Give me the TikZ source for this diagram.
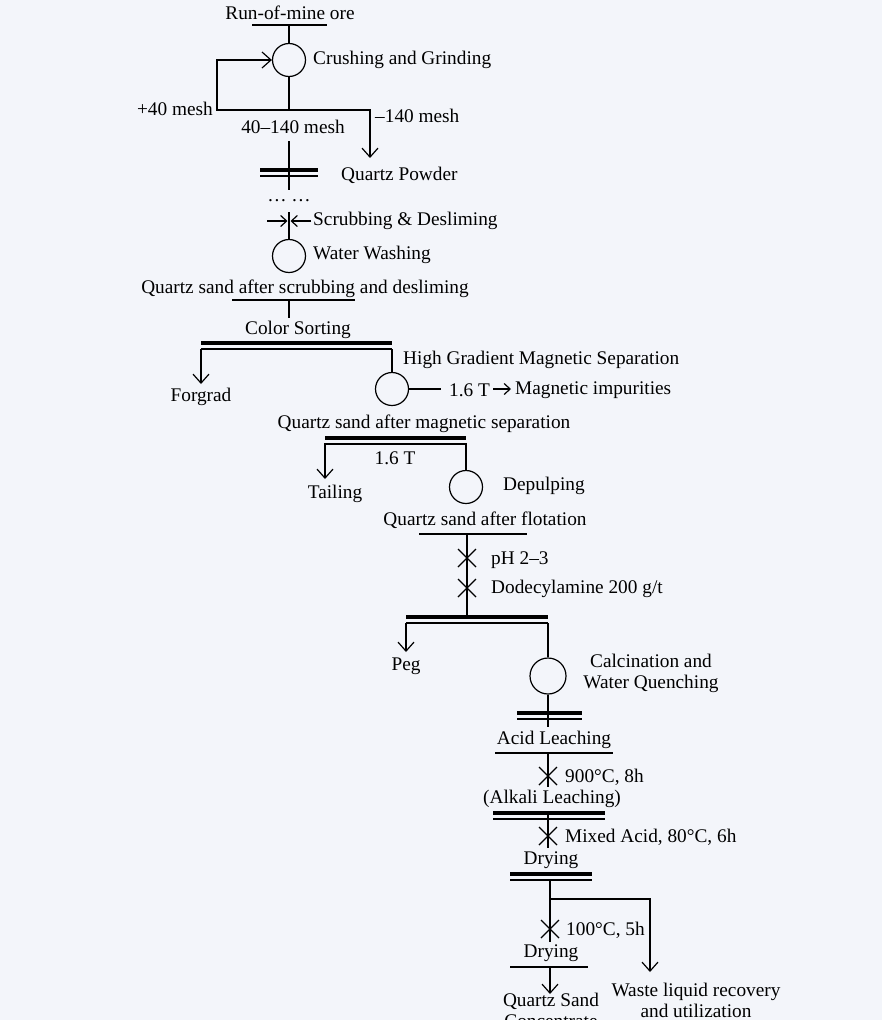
\documentclass[tikz,border=0pt]{standalone}
\usepackage{fontspec}
\setmainfont{Liberation Serif}
\usetikzlibrary{arrows.meta}
\definecolor{bg}{RGB}{243,245,250}
\begin{document}
\begin{tikzpicture}[x=1pt,y=-1pt,
  every node/.style={font=\fontsize{19.3}{21}\selectfont,inner sep=0pt},
  ln/.style={line width=1.2pt},
  arr/.style={ln,-{Straight Barb[length=9pt,width=16pt]}},
  sarr/.style={ln,-{Straight Barb[length=6pt,width=11pt]}},
  thk/.style={line width=3.2pt},
  circ/.style={circle,draw,line width=1.2pt,minimum size=33pt},
  lt/.style={anchor=west}]
\fill[bg] (0,0) rectangle (882,1020);
\useasboundingbox (0,0) rectangle (882,1020);
\newcommand\xmark[2]{\draw[ln] (#1-9,#2-9)--(#1+9,#2+9) (#1-9,#2+9)--(#1+9,#2-9);}
\newcommand\dbar[3]{\draw[thk] (#1,#3)--(#2,#3); \draw[ln] (#1,#3+6)--(#2,#3+6);}
% top
\node (rom) at (290,13) {Run-of-mine ore};
\draw[ln] (252,25)--(327,25);
\node[circ] (c1) at (289,60) {};
\node[lt] (cg) at (313,60) {Crushing and Grinding};
\draw[ln] (289,25)--(c1.north);
\coordinate (j1) at (289,110);
\draw[ln] (c1.south)--(j1);
\draw[arr] (j1)--(217,110)--(217,60)--(c1.west);
\node[anchor=east] (p40) at (213,109) {+40 mesh};
\node (m140) at (293,127) {40--140 mesh};
\coordinate (q1) at (370,158);
\draw[arr] (j1)--(370,110)--(q1);
\node[lt] (n140) at (375,116) {--140 mesh};
\draw[ln] (289,141)--(289,190);
\dbar{260}{318}{170}
\node[lt] (qp) at (341,175) {Quartz Powder};
\node (dots) at (289,201) {\ldots\ \ldots};
\coordinate (s1) at (287.5,221);
\coordinate (s2) at (290.5,221);
\draw[sarr] (267,221)--(s1);
\draw[sarr] (311,221)--(s2);
\node[lt] (sd) at (313,221) {Scrubbing \& Desliming};
\node[circ] (c2) at (289,256) {};
\draw[ln] (289,212)--(c2.north);
\node[lt] (ww) at (313,255) {Water Washing};
\node (qs1) at (305,289) {Quartz sand after scrubbing and desliming};
\draw[ln] (232,300)--(355,300);
\draw[ln] (289,300)--(289,318);
\node (cs) at (298,330) {Color Sorting};
\dbar{201}{392}{343}
\draw[arr] (201,349)--(201,384);
\node (fg) at (201,397) {Forgrad};
\node[circ] (c3) at (392,389) {};
\draw[ln] (392,349)--(c3.north);
\node[lt] (hg) at (403,360) {High Gradient Magnetic Separation};
\node[lt] (t16) at (449,390) {1.6 T};
\draw[ln] (c3.east)--(441,389);
\node[lt] (mi) at (515,390) {Magnetic impurities};
\draw[sarr] (493,389) -- (511,389);
\node (qs2) at (424,424) {Quartz sand after magnetic separation};
\dbar{325}{466}{438}
\draw[arr] (325,443)--(325,479);
\node (tl) at (335,494) {Tailing};
\node (t2) at (395,458) {1.6 T};
\node[circ] (c4) at (466,487) {};
\draw[ln] (466,443)--(c4.north);
\node[lt] (dp) at (503,486) {Depulping};
\node (qs3) at (485,520) {Quartz sand after flotation};
\draw[ln] (419,534)--(527,534);
\draw[ln] (467,534)--(467,617);
\xmark{467}{558}\xmark{467}{588}
\node[lt] (ph) at (491,560) {pH 2--3};
\node[lt] (dd) at (491,589) {Dodecylamine 200 g/t};
\dbar{406}{548}{617}
\draw[arr] (406,623)--(406,652);
\node (peg) at (406,666) {Peg};
\node[circ,minimum size=36pt] (c5) at (548,676) {};
\draw[ln] (548,623)--(c5.north);
\node[align=center] (cw) at (651,673) {Calcination and\\Water Quenching};
\draw[ln] (c5.south)--(548,727);
\dbar{517}{582}{713}
\node (al) at (554,740) {Acid Leaching};
\draw[ln] (495,753)--(613,753);
\draw[ln] (548,753)--(548,787);
\xmark{548}{776}
\node[lt] (t900) at (565,777) {900°C, 8h};
\node (alk) at (552,799) {(Alkali Leaching)};
\dbar{493}{605}{813}
\draw[ln] (548,813)--(548,848);
\xmark{548}{836}
\node[lt] (ma) at (565,837) {Mixed Acid, 80°C, 6h};
\node (dr1) at (551,860) {Drying};
\dbar{510}{592}{874}
\draw[ln] (550,880)--(550,942);
\xmark{550}{929}
\coordinate (b1) at (550,899);
\draw[arr] (b1)--(650,899)--(650,972);
\node[lt] (t100) at (566,930) {100°C, 5h};
\node (dr2) at (551,953) {Drying};
\draw[ln] (510,967)--(588,967);
\draw[arr] (550,967)--(550,994);
\node[align=center,anchor=north] (qsc) at (551,993) {Quartz Sand\\Concentrate};
\node[align=center] (wl) at (696,1000) {Waste liquid recovery\\and utilization};
\end{tikzpicture}
\end{document}
